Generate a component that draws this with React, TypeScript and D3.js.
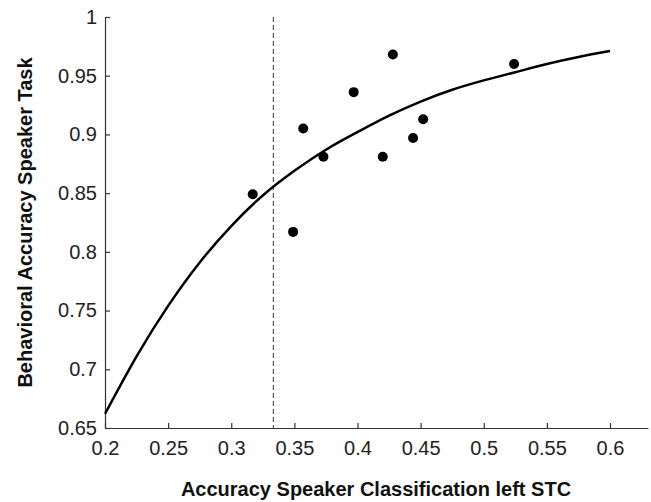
import React, { useEffect, useRef } from 'react';
import * as d3 from 'd3';

// scatter points: classifier accuracy (left STC) vs behavioral accuracy
const classAcc = [0.317, 0.349, 0.357, 0.373, 0.397, 0.420, 0.428, 0.444, 0.452, 0.524];
const behavAcc = [0.849, 0.817, 0.905, 0.881, 0.936, 0.881, 0.968, 0.897, 0.913, 0.960];

// fitted curve
const fitX = [0.2, 0.225, 0.25, 0.275, 0.3, 0.325, 0.35, 0.375, 0.4, 0.425, 0.45, 0.475, 0.5, 0.525, 0.55, 0.575, 0.6];
const fitY = [0.662, 0.711, 0.754, 0.791, 0.822, 0.848, 0.869, 0.887, 0.902, 0.916, 0.928, 0.938, 0.946, 0.953, 0.960, 0.966, 0.971];

const chance = 1 / 3;

const xTicks = [0.2, 0.25, 0.3, 0.35, 0.4, 0.45, 0.5, 0.55, 0.6];
const yTicks = [0.65, 0.7, 0.75, 0.8, 0.85, 0.9, 0.95, 1];

const W = 651, H = 502;
const FONT = '"Liberation Sans", Arial, sans-serif';

export default function App() {
  const ref = useRef<SVGSVGElement>(null);

  useEffect(() => {
    const svg = d3.select(ref.current);
    svg.selectAll('*').remove();

    const x = d3.scaleLinear().domain([0.2, 0.63]).range([105, 647.9]);
    const y = d3.scaleLinear().domain([0.65, 1]).range([428, 17]);
    const fmt = (d: any) => String(+(+d).toFixed(2));

    const xAxis = svg.append('g')
      .attr('transform', `translate(0,${y(0.65)})`)
      .call(d3.axisBottom(x).tickValues(xTicks).tickFormat(fmt)
        .tickSizeInner(-5).tickSizeOuter(0).tickPadding(13));
    const yAxis = svg.append('g')
      .attr('transform', `translate(${x(0.2)},0)`)
      .call(d3.axisLeft(y).tickValues(yTicks).tickFormat(fmt)
        .tickSizeInner(-5).tickSizeOuter(0).tickPadding(8));

    [xAxis, yAxis].forEach(a => {
      a.select('.domain').attr('stroke', '#333').attr('stroke-width', 1.2);
      a.selectAll('.tick line').attr('stroke', '#333').attr('stroke-width', 1.2);
      a.selectAll('.tick text')
        .attr('fill', '#222')
        .style('font-family', FONT)
        .style('font-size', '20px');
    });

    // chance line
    svg.append('line')
      .attr('x1', x(chance)).attr('x2', x(chance))
      .attr('y1', y(1)).attr('y2', y(0.65))
      .attr('stroke', '#333')
      .attr('stroke-width', 1)
      .attr('stroke-dasharray', '5,3');

    // fit
    const line = d3.line<number>()
      .x((d, i) => x(fitX[i]))
      .y(d => y(d))
      .curve(d3.curveNatural);
    svg.append('path')
      .attr('d', line(fitY))
      .attr('fill', 'none')
      .attr('stroke', '#000')
      .attr('stroke-width', 2.5);

    svg.append('g').selectAll('circle')
      .data(classAcc)
      .join('circle')
      .attr('cx', d => x(d))
      .attr('cy', (d, i) => y(behavAcc[i]))
      .attr('r', 5)
      .attr('fill', '#000');

    svg.append('text')
      .attr('x', (105 + 647) / 2)
      .attr('y', 496)
      .attr('text-anchor', 'middle')
      .style('font-family', FONT)
      .style('font-size', '20px')
      .style('font-weight', 'bold')
      .attr('fill', '#111')
      .text('Accuracy Speaker Classification left STC');

    svg.append('text')
      .attr('transform', `translate(32,${(17 + 428) / 2}) rotate(-90)`)
      .attr('text-anchor', 'middle')
      .style('font-family', FONT)
      .style('font-size', '20px')
      .style('font-weight', 'bold')
      .attr('fill', '#111')
      .text('Behavioral Accuracy Speaker Task');
  }, []);

  return (
    <svg ref={ref} width={W} height={H}
      style={{ position: 'absolute', left: 0, top: 0, background: '#fff' }} />
  );
}
